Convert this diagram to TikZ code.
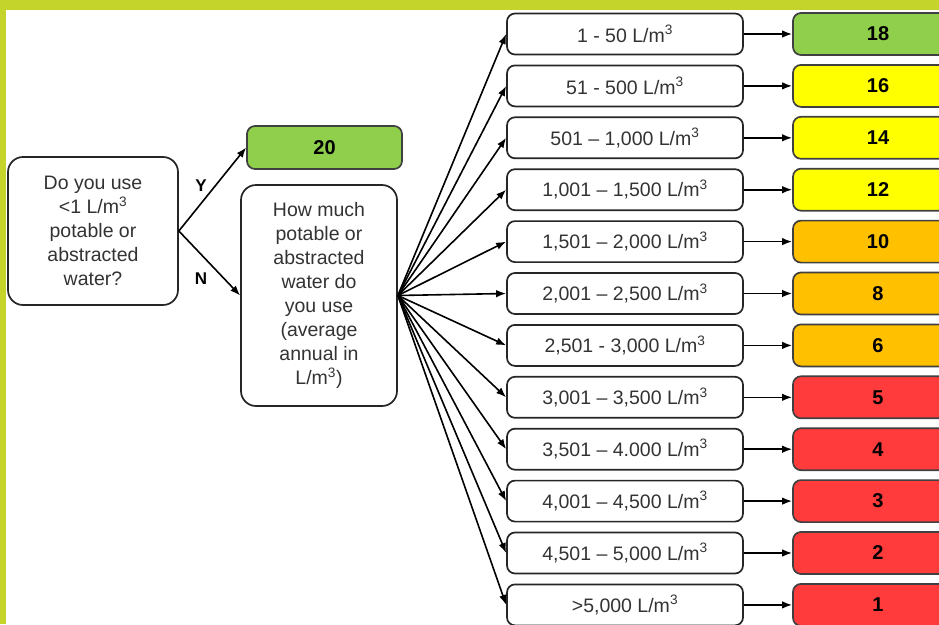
\documentclass[tikz,border=0pt]{standalone}
\usepackage{fontspec}
\setmainfont{Liberation Sans}
\usetikzlibrary{arrows.meta}
\definecolor{bandgreen}{HTML}{C5D42B}
\definecolor{scgreen}{HTML}{8FCF4C}
\definecolor{scyellow}{HTML}{FFFF00}
\definecolor{scorange}{HTML}{FFC000}
\definecolor{scred}{HTML}{FF3B3B}
\definecolor{txtgray}{HTML}{333333}

\tikzset{
    qbox/.style={draw=black!85,line width=1.7pt,rounded corners=15pt,align=center,
        text=txtgray,font=\fontsize{19.5}{24}\selectfont},
    rangebox/.style={draw=black!85,line width=1.7pt,rounded corners=8pt,
        minimum width=236pt,minimum height=41pt,text=txtgray,font=\fontsize{19.5}{22}\selectfont},
    scorebox/.style={draw=black!75,line width=1.7pt,rounded corners=8pt,
        minimum width=170pt,minimum height=42pt,font=\bfseries\fontsize{20}{22}\selectfont},
    link/.style={-{Latex[length=10pt,width=7.5pt]},line width=1.6pt},
}

\begin{document}
\begin{tikzpicture}[x=1pt,y=-1pt]
    \useasboundingbox (0,0) rectangle (939,624);
    \clip (0,0) rectangle (939,624);
    \fill[white] (0,0) rectangle (939,624);

    % question and its two answers
    \node[qbox,minimum width=170pt,minimum height=148pt] (ask) at (93,231)
        {Do you use\\<1 L/m\textsuperscript{3}\\potable or\\abstracted\\water?};
    \node[scorebox,fill=scgreen,minimum width=155pt,minimum height=43pt] (top) at (324.5,147.5) {20};
    \node[qbox,minimum width=156pt,minimum height=221pt] (how) at (319,295.5)
        {How much\\potable or\\abstracted\\water do\\you use\\(average\\annual in\\L/m\textsuperscript{3})};
    \draw[link] (ask.east) -- (top.west);
    \draw[link] (ask.east) -- (how.west);
    \node[font=\bfseries\fontsize{17}{20}\selectfont] (yes) at (201,186) {Y};
    \node[font=\bfseries\fontsize{17}{20}\selectfont] (no) at (201,279) {N};

    % bands and scores
    \foreach \rng/\pts/\col [count=\i from 0] in {
        {1 - 50}/18/scgreen,
        {51 - 500}/16/scyellow,
        {501 -- 1,000}/14/scyellow,
        {1,001 -- 1,500}/12/scyellow,
        {1,501 -- 2,000}/10/scorange,
        {2,001 -- 2,500}/8/scorange,
        {2,501 - 3,000}/6/scorange,
        {3,001 -- 3,500}/5/scred,
        {3,501 -- 4.000}/4/scred,
        {4,001 -- 4,500}/3/scred,
        {4,501 -- 5,000}/2/scred,
        {>5,000}/1/scred}{
        \pgfmathsetmacro\ypos{34+51.9*\i}
        \node[rangebox] (r\i) at (625,\ypos) {\rng{} L/m\textsuperscript{3}};
        \node[scorebox,fill=\col] (s\i) at (878,\ypos) {\pts};
        \draw[link] (how.east) -- (r\i.west);
        \draw[link] (r\i.east) -- (s\i.west);
    }

    \fill[bandgreen] (0,0) rectangle (939,10);
    \fill[bandgreen] (0,0) rectangle (6,624);
\end{tikzpicture}
\end{document}
